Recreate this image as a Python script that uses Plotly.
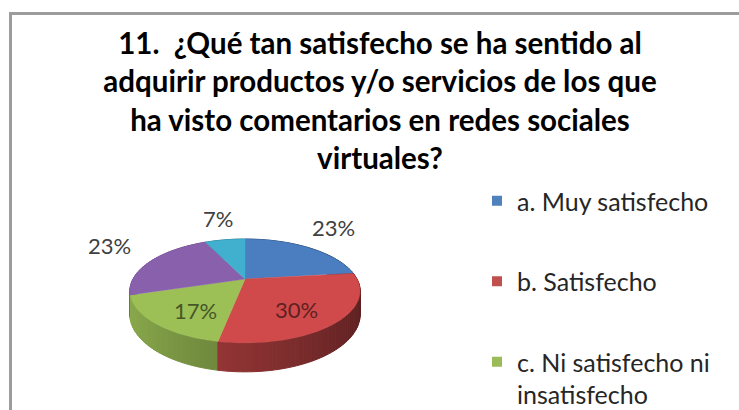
import numpy as np
import plotly.graph_objects as go

# Survey answers and their shares (percent)
categories = [
    "a. Muy satisfecho",
    "b. Satisfecho",
    "c. Ni satisfecho ni<br>insatisfecho",
    "d. Insatisfecho",
    "e. Muy insatisfecho",
]
percentages = [23, 30, 17, 23, 7]

# Face colours of the slices and the legend swatches
top_colors = ["#4A7EC0", "#D04A4B", "#9CC056", "#8960AC", "#40B0CE"]
legend_colors = ["#4F81BD", "#C0504D", "#9BBB59", "#8064A2", "#4BACC6"]
label_inside = [False, True, True, False, False]
legend_shown = 3

title_lines = [
    "11.  ¿Qué tan satisfecho se ha sentido al",
    "adquirir productos y/o servicios de los que",
    "ha visto comentarios en redes sociales",
    "virtuales?",
]

W, H = 739, 410

# Geometry of the tilted disc (pixel space, y grows downwards)
CX, CY = 245.0, 279.0
RA, RB = 112.0, 49.2
PERSP = 0.23
THICK = 22.3


def project(theta_deg, r=1.0, drop=0.0):
    th = np.radians(theta_deg)
    u = r * np.sin(th)
    v = -r * np.cos(th)
    s = 1.0 / (1.0 - PERSP * v)
    return CX + RA * u * s, CY + (RB * v + drop) * s


def shade(hex_color, f):
    h = hex_color.lstrip("#")
    rgb = [int(h[i:i + 2], 16) for i in (0, 2, 4)]
    rgb = [max(0, min(255, int(round(c * f)))) for c in rgb]
    return "rgb({},{},{})".format(*rgb)


values = np.array(percentages, dtype=float)
ends = np.cumsum(values) / values.sum() * 360.0
starts = np.concatenate([[0.0], ends[:-1]])

fig = go.Figure()

# Outer walls, split into narrow strips so the shading follows the curve
walls = []
for i, (a0, a1) in enumerate(zip(starts, ends)):
    n = max(2, int(np.ceil((a1 - a0) / 2.0)))
    edges = np.linspace(a0, a1, n + 1)
    for t0, t1 in zip(edges[:-1], edges[1:]):
        tm = 0.5 * (t0 + t1)
        depth_key = -np.cos(np.radians(tm))
        walls.append((depth_key, i, t0, t1, tm))
walls.sort(key=lambda w: w[0])
for _, i, t0, t1, tm in walls:
    arc = np.linspace(t0, t1, 4)
    xt, yt = project(arc)
    xb, yb = project(arc[::-1], drop=THICK)
    xs = np.concatenate([xt, xb, xt[:1]])
    ys = np.concatenate([yt, yb, yt[:1]])
    f = 0.67 - 0.22 * np.sin(np.radians(tm))
    col = shade(top_colors[i], f)
    fig.add_trace(go.Scatter(
        x=xs, y=ys, mode="lines", fill="toself", fillcolor=col,
        line=dict(color=col, width=1), hoverinfo="skip", showlegend=False,
    ))

# Top faces of the slices
for i, (a0, a1) in enumerate(zip(starts, ends)):
    arc = np.linspace(a0, a1, max(8, int((a1 - a0) * 2)))
    xa, ya = project(arc)
    xs = np.concatenate([[CX], xa, [CX]])
    ys = np.concatenate([[CY], ya, [CY]])
    fig.add_trace(go.Scatter(
        x=xs, y=ys, mode="lines", fill="toself", fillcolor=top_colors[i],
        line=dict(color=top_colors[i], width=0.5),
        name=categories[i], hoverinfo="name", showlegend=False,
    ))

# Percentage labels
for i, (a0, a1) in enumerate(zip(starts, ends)):
    mid = 0.5 * (a0 + a1)
    if label_inside[i]:
        lx, ly = project(mid, r=0.6, drop=6.0)
        color = shade(top_colors[i], 0.45)
    else:
        lx, ly = project(mid, r=1.5, drop=-9.0)
        color = "#404040"
    fig.add_annotation(
        x=float(lx), y=float(ly), text=f"{percentages[i]}%", showarrow=False,
        font=dict(family="Lato", size=22, color=color),
        xanchor="center", yanchor="middle",
    )

# Legend entries
for i in range(legend_shown):
    fig.add_trace(go.Scatter(
        x=[None], y=[None], mode="markers",
        marker=dict(symbol="square", size=10, color=legend_colors[i]),
        name=categories[i], legendgroup=f"g{i}", showlegend=True,
    ))

# Chart frame
fig.add_shape(
    type="rect", xref="paper", yref="paper",
    x0=10.5 / W, x1=1.05, y0=-0.05, y1=1 - 13.5 / H,
    line=dict(color="#9C9C9C", width=3), fillcolor="rgba(0,0,0,0)",
    layer="below",
)

fig.update_layout(
    width=W, height=H,
    margin=dict(l=0, r=0, t=0, b=0, autoexpand=False),
    paper_bgcolor="white", plot_bgcolor="white",
    xaxis=dict(range=[0, W], visible=False, fixedrange=True),
    yaxis=dict(range=[H, 0], visible=False, fixedrange=True),
    title=dict(
        text="<br>".join(title_lines),
        x=380 / W, xanchor="center", xref="paper",
        y=1 - 54 / H, yanchor="top", yref="paper",
        font=dict(family="Lato", size=29.5, color="#000000", weight="bold"),
    ),
    legend=dict(
        x=477 / W, xanchor="left", y=1 - 178 / H, yanchor="top",
        font=dict(family="Lato", size=25, color="#262626"),
        tracegroupgap=45, valign="top", bgcolor="rgba(0,0,0,0)",
        itemwidth=30,
    ),
    showlegend=True,
)

fig.write_html("out.html")
